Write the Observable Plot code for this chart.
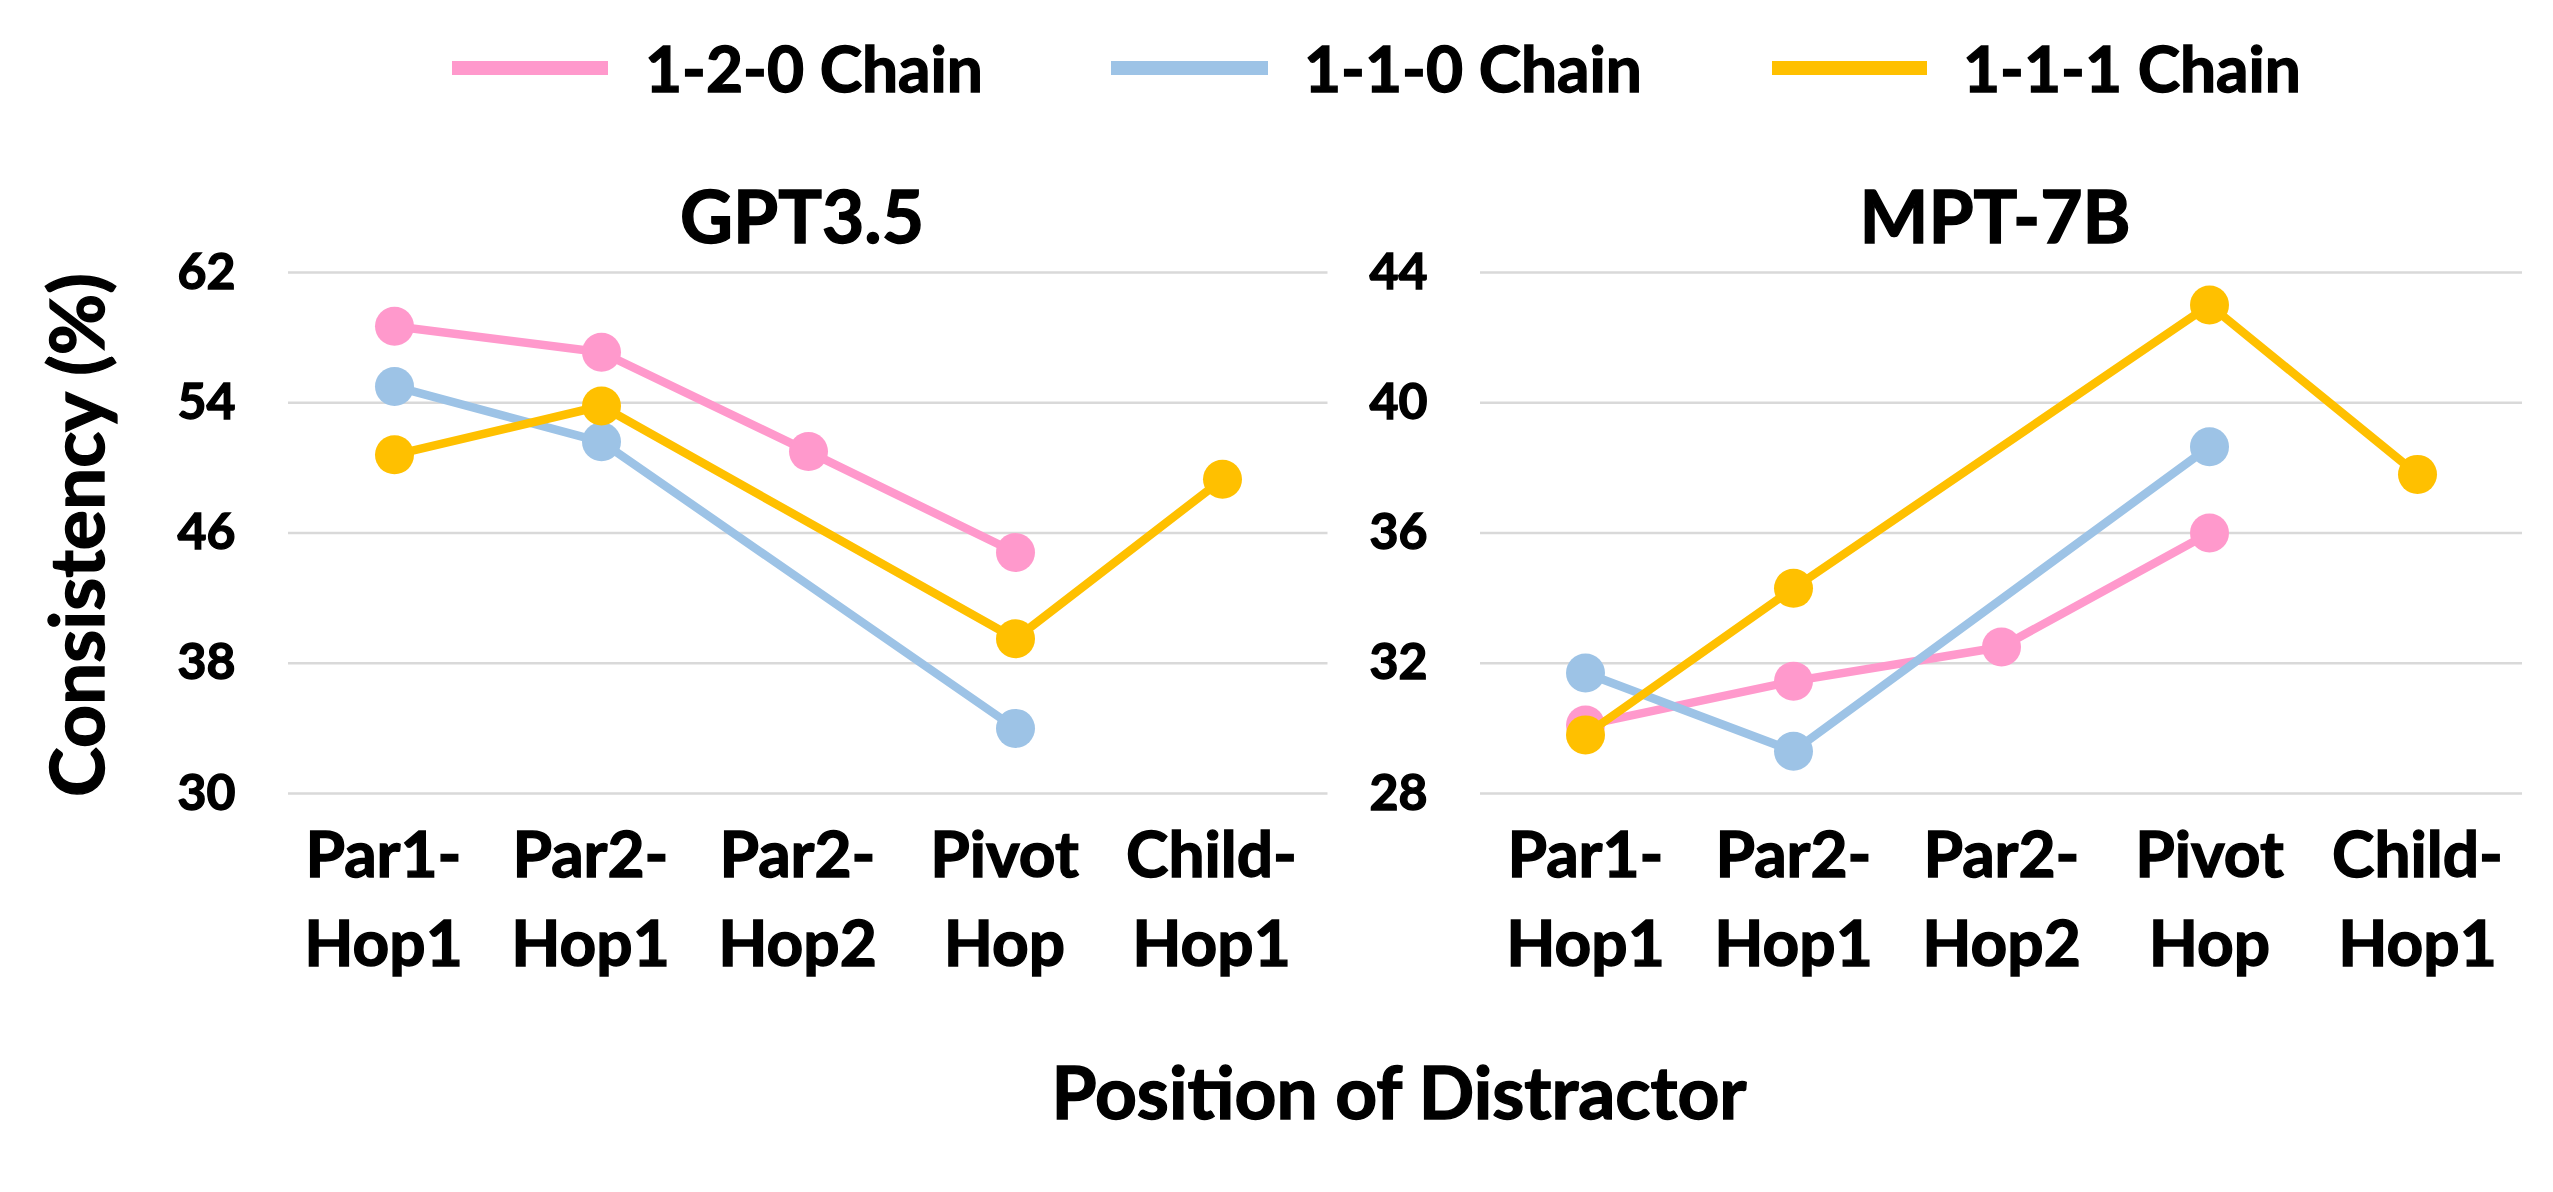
<!DOCTYPE html>
<html><head><meta charset="utf-8">
<script src="https://cdn.jsdelivr.net/npm/d3@7"></script>
<script src="https://cdn.jsdelivr.net/npm/@observablehq/plot@0.6"></script>
<style>
html,body{margin:0;padding:0;background:#fff;}
#chart{position:relative;width:2553px;height:1192px;overflow:hidden;font-family:Lato,sans-serif;font-weight:700;}
#chart > svg{position:absolute;top:0;}
#chart text{stroke:#000;stroke-width:1.4px;}
</style></head><body><div id="chart"></div>
<script>
const categories = ["Par1-Hop1","Par2-Hop1","Par2-Hop2","Pivot Hop","Child-Hop1"];
const tickLabels = ["Par1-\nHop1","Par2-\nHop1","Par2-\nHop2","Pivot\nHop","Child-\nHop1"];
const seriesNames = ["1-2-0 Chain","1-1-0 Chain","1-1-1 Chain"];
const seriesColors = ["#FF99CC","#9DC3E6","#FFC000"];
const panelTitles = ["GPT3.5","MPT-7B"];
const gptTicks = [30,38,46,54,62];
const mptTicks = [28,32,36,40,44];
// GPT3.5 values (null = no point)
const gpt120 = [58.7,57.1,51.0,44.8,null];
const gpt110 = [55.0,51.6,null,34.0,null];
const gpt111 = [50.8,53.8,null,39.5,49.3];
// MPT-7B values
const mpt120 = [30.1,31.45,32.5,36.0,null];
const mpt110 = [31.7,29.3,null,38.65,null];
const mpt111 = [29.8,34.3,null,43.0,37.8];

const chart = document.getElementById("chart");

function panel({series, ticks, width, left, marginLeft, marginRight, dx}) {
  const marks = [
    Plot.gridY(ticks, {stroke:"#d9d9d9", strokeOpacity:1, strokeWidth:2.5}),
    Plot.axisY(ticks, {tickSize:0, tickPadding:53, fontSize:50, fontWeight:700}),
    Plot.axisX({tickSize:0, tickPadding:21, fontSize:64, fontWeight:700, lineHeight:1.38, dx,
      tickFormat: d => tickLabels[categories.indexOf(d)]})
  ];
  series.forEach((vals, i) => {
    const rows = categories.map((c, j) => ({cat:c, v:vals[j], s:seriesNames[i]})).filter(d => d.v != null);
    marks.push(Plot.line(rows, {x:"cat", y:"v", stroke:seriesColors[i], strokeWidth:8.5}));
    marks.push(Plot.dot(rows, {x:"cat", y:"v", r:19.5, fill:seriesColors[i]}));
  });
  const svg = Plot.plot({
    width, height:1192, marginLeft, marginRight, marginTop:272, marginBottom:399,
    x:{type:"point", domain:categories, padding:0.5, label:null},
    y:{domain:[ticks[0], ticks[ticks.length-1]], label:null},
    style:{fontFamily:"Lato, sans-serif", fontWeight:700, color:"#000", background:"transparent", overflow:"visible"},
    marks
  });
  svg.style.left = left + "px";
  chart.appendChild(svg);
}

panel({series:[gpt120,gpt110,gpt111], ticks:gptTicks, width:1340, left:0, marginLeft:288, marginRight:12.5, dx:-11});
panel({series:[mpt120,mpt110,mpt111], ticks:mptTicks, width:1213, left:1340, marginLeft:140, marginRight:31, dx:0});

// overlay: legend, panel titles, axis titles
const ov = d3.select(chart).append("svg")
  .attr("width",2553).attr("height",1192)
  .style("left","0px").style("pointer-events","none")
  .style("font-family","Lato, sans-serif").style("font-weight","700");
const legX = [[452,608,645],[1111,1268,1304],[1772,1927,1963]];
seriesNames.forEach((n,i) => {
  ov.append("line").attr("x1",legX[i][0]).attr("x2",legX[i][1]).attr("y1",68).attr("y2",68)
    .attr("stroke",seriesColors[i]).attr("stroke-width",14);
  ov.append("text").attr("x",legX[i][2]).attr("y",92).attr("font-size",64).attr("fill","#000").text(n);
});
[[802,panelTitles[0]],[1995,panelTitles[1]]].forEach(([x,t]) => {
  ov.append("text").attr("x",x).attr("y",243).attr("text-anchor","middle").attr("font-size",73).attr("fill","#000").text(t);
});
ov.append("text").attr("x",1399).attr("y",1119).attr("text-anchor","middle").attr("font-size",73).attr("fill","#000").text("Position of Distractor");
ov.append("text").attr("transform","translate(104,535) rotate(-90)").attr("text-anchor","middle").attr("font-size",75).attr("fill","#000").text("Consistency (%)");
</script></body></html>
